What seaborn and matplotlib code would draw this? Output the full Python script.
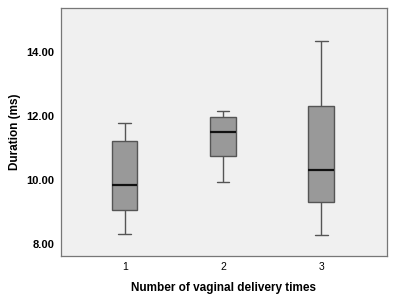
import numpy as np
import pandas as pd
import matplotlib
matplotlib.use("Agg")
import matplotlib.pyplot as plt
import seaborn as sns

# five-number summaries: min, Q1, median, Q3, max
group_labels = ["1", "2", "3"]
times_1 = [8.31, 9.06, 9.84, 11.22, 11.78]
times_2 = [9.94, 10.75, 11.50, 11.97, 12.16]
times_3 = [8.28, 9.31, 10.31, 12.31, 14.34]
y_ticks = [8.0, 10.0, 12.0, 14.0]

df = pd.DataFrame({
    "group": np.repeat(group_labels, 5),
    "duration": times_1 + times_2 + times_3,
})

sns.set_style("white", {"text.color": "black", "axes.labelcolor": "black",
                        "xtick.color": "black", "ytick.color": "black"})
plt.rcParams["font.family"] = ["Liberation Sans", "DejaVu Sans"]

fig = plt.figure(figsize=(3.95, 3.05), dpi=100)
ax = fig.add_axes([0.154, 0.161, 0.826, 0.813])
ax.set_facecolor("#f0f0f0")

edge = "#555555"
sns.boxplot(data=df, x="group", y="duration", order=group_labels,
            whis=(0, 100), width=0.26, color="#999999", saturation=1,
            linecolor=edge, linewidth=1.0, ax=ax,
            medianprops=dict(color="#111111", linewidth=1.6))

ax.set_ylim(7.625, 15.375)
ax.set_xlim(-0.65, 2.67)
ax.set_yticks(y_ticks)
ax.set_yticklabels([f"{v:.2f}" for v in y_ticks], fontweight="bold", fontsize=8)
ax.set_xticks(range(len(group_labels)))
ax.set_xticklabels(group_labels, fontsize=7.5)
ax.tick_params(axis="both", direction="out", length=3, width=0.8, color="#555555",
               labelcolor="black", pad=1.5)

for sp in ax.spines.values():
    sp.set_color("#777777")
    sp.set_linewidth(0.9)

ax.set_xlabel("Number of vaginal delivery times", fontweight="bold", fontsize=8.5,
              labelpad=7, color="black")
ax.set_ylabel("Duration (ms)", fontweight="bold", fontsize=8.5, labelpad=4, color="black")

fig.savefig("out.png", dpi=100, facecolor="white")
